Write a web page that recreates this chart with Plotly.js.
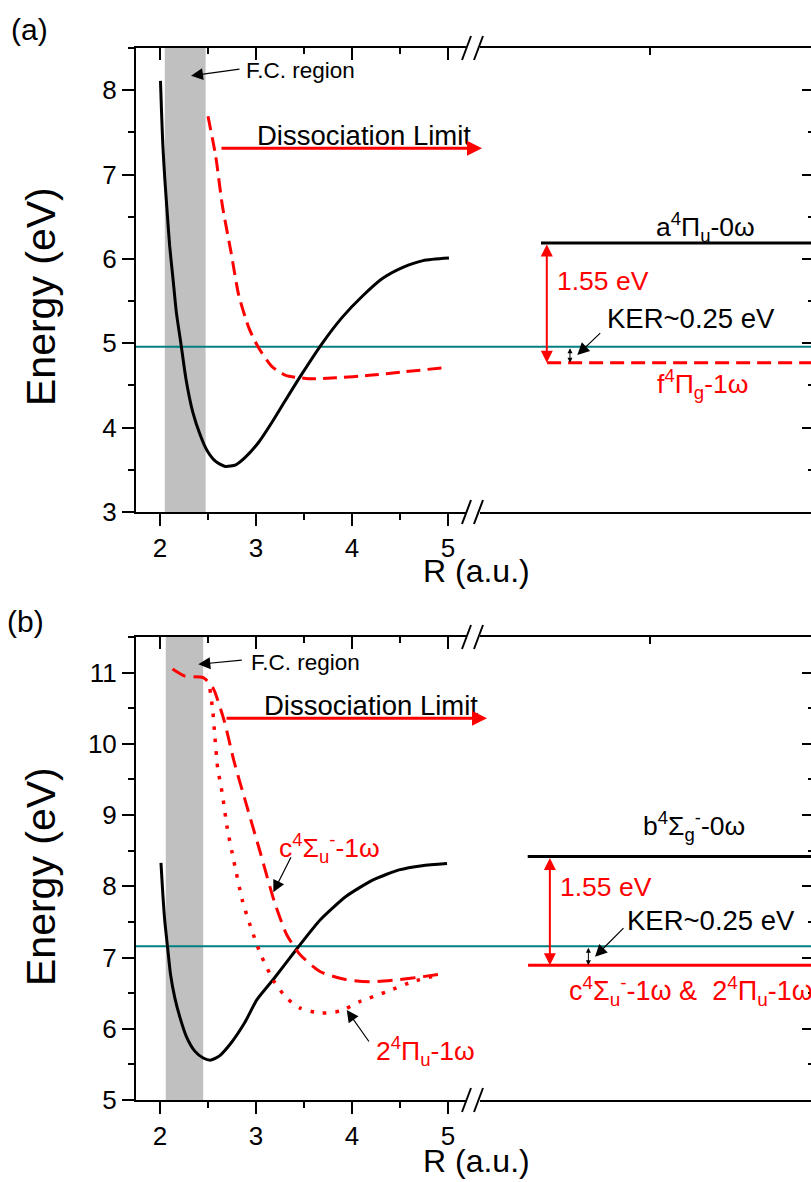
<!DOCTYPE html>
<html><head><meta charset="utf-8">
<script src="https://cdn.plot.ly/plotly-3.0.1.min.js"></script>
<style>html,body{margin:0;padding:0;overflow:hidden;background:#fff}#chart{width:817px;height:1182px}</style>
</head><body><div id="chart"></div>
<script>
// ---------------- DATA ----------------
// Panel (a): potential curves (R in a.u., E in eV)
const rA_black = [2.005, 2.016, 2.03, 2.05, 2.075, 2.10, 2.135, 2.17, 2.22, 2.27, 2.34, 2.42, 2.49, 2.58, 2.68, 2.79, 2.89, 3.03, 3.17, 3.31, 3.48, 3.69, 3.90, 4.11, 4.32, 4.53, 4.74, 5.01];
const eA_black = [8.11, 7.74, 7.34, 6.95, 6.55, 6.16, 5.77, 5.37, 4.98, 4.58, 4.19, 3.91, 3.73, 3.60, 3.54, 3.56, 3.65, 3.83, 4.07, 4.33, 4.64, 5.00, 5.31, 5.56, 5.77, 5.90, 5.98, 6.01];
const rA_red = [2.50, 2.58, 2.65, 2.74, 2.82, 2.93, 3.03, 3.17, 3.31, 3.55, 3.83, 4.18, 4.53, 4.95];
const eA_red = [7.69, 7.22, 6.63, 6.08, 5.57, 5.17, 4.94, 4.72, 4.62, 4.58, 4.59, 4.62, 4.66, 4.71];
const fcA = [2.05, 2.475];
const tealA = 4.96;
const upperA = 6.19;   // a4Πu-0ω
const lowerA = 4.77;   // f4Πg-1ω

// Panel (b)
const rB_black = [2.01, 2.03, 2.05, 2.08, 2.11, 2.155, 2.21, 2.275, 2.36, 2.45, 2.53, 2.62, 2.74, 2.88, 3.01, 3.19, 3.43, 3.67, 3.94, 4.22, 4.49, 4.73, 4.99];
const eB_black = [8.33, 7.88, 7.51, 7.13, 6.76, 6.43, 6.15, 5.89, 5.69, 5.59, 5.56, 5.62, 5.80, 6.08, 6.41, 6.71, 7.13, 7.53, 7.86, 8.09, 8.23, 8.29, 8.32];
const rB_c = [2.13, 2.26, 2.45, 2.55, 2.67, 2.77, 2.91, 3.05, 3.19, 3.32, 3.46, 3.67, 3.94, 4.22, 4.49, 4.73, 4.94];
const eB_c = [11.05, 10.95, 10.93, 10.79, 10.32, 9.76, 9.10, 8.45, 7.79, 7.32, 7.04, 6.80, 6.69, 6.66, 6.69, 6.73, 6.77];
const rB_p = [2.52, 2.55, 2.57, 2.60, 2.65, 2.70, 2.77, 2.86, 2.95, 3.05, 3.19, 3.32, 3.46, 3.67, 3.88, 4.08, 4.36, 4.63, 4.91];
const eB_p = [10.77, 10.46, 10.13, 9.67, 9.29, 8.82, 8.35, 7.79, 7.41, 7.04, 6.66, 6.43, 6.29, 6.22, 6.25, 6.38, 6.52, 6.66, 6.76];
const fcB = [2.06, 2.45];
const tealB = 7.16;
const upperB = 8.42;   // b4Σg- -0ω
const lowerB = 6.89;   // c4Σu- -1ω & 2 4Πu-1ω

// Axis ranges / ticks
const rRange = [1.75, 5.198];
const eRangeA = [3, 8.5];
const eRangeB = [5, 11.5];
const rightRange = [0, 9.8];
const rightTopTick = [5];

// ---------------- LAYOUT HELPERS ----------------
const PL = 136, PR = 814, PT = 48, PB = 1100, PW = PR - PL, PH = PB - PT;
const fx = px => (px - PL) / PW;
const fy = py => (PB - py) / PH;
const xLeftDom = [0, fx(467)], xRightDom = [fx(480), 1];
const yDomA = [fy(512), 1], yDomB = [0, fy(637)];
const FONT = 'Arial, "Liberation Sans", Helvetica, sans-serif';

const base = {showgrid:false, zeroline:false, showline:true, linecolor:'#000', linewidth:2,
  tickcolor:'#000', tickwidth:2, ticklen:12, tickfont:{size:26, color:'#000', family:FONT}};
function xBottom(dom, anchor){ return Object.assign({}, base, {domain:dom, anchor:anchor, range:rRange,
  tickmode:'linear', tick0:0, dtick:1, ticks:'outside',
  minor:{ticks:'outside', ticklen:6, tickwidth:2, tickcolor:'#000', dtick:0.5, tick0:0}}); }
function xTop(over, anchor){ return Object.assign({}, base, {overlaying:over, side:'top', anchor:anchor, range:rRange,
  tickmode:'linear', tick0:0, dtick:1, ticks:'inside', showticklabels:false,
  minor:{ticks:'inside', ticklen:6, tickwidth:2, tickcolor:'#000', dtick:0.5, tick0:0}}); }
function xRight(dom, anchor){ return Object.assign({}, base, {domain:dom, anchor:anchor, range:rightRange,
  ticks:'', showticklabels:false}); }
function xRightTop(over, anchor){ return Object.assign({}, base, {overlaying:over, side:'top', anchor:anchor, range:rightRange,
  tickmode:'array', tickvals:rightTopTick, ticks:'inside', ticklen:7, showticklabels:false}); }
function yLeft(dom, anchor, rng){ return Object.assign({}, base, {domain:dom, anchor:anchor, range:rng,
  tickmode:'linear', tick0:0, dtick:1, ticks:'outside',
  minor:{ticks:'outside', ticklen:6, tickwidth:2, tickcolor:'#000', dtick:0.5, tick0:0}}); }
function yRight(over, rng){ return Object.assign({}, base, {overlaying:over, side:'right', anchor:'free', position:1, range:rng,
  showline:false, tickmode:'linear', tick0:0, dtick:1, ticks:'inside', showticklabels:false,
  minor:{ticks:'inside', ticklen:6, tickwidth:2, tickcolor:'#000', dtick:0.5, tick0:0}}); }

// ---------------- TRACES ----------------
function curve(x, y, xa, ya, color, dash, width){
  return {type:'scatter', mode:'lines', x:x, y:y, xaxis:xa, yaxis:ya, hoverinfo:'skip', showlegend:false,
    line:{color:color, width:width || 3, dash:dash, shape:'spline', smoothing:0.6}};
}
function level(e, x0, xa, ya, color, dash){
  return {type:'scatter', mode:'lines', x:[x0, rightRange[1]], y:[e, e], xaxis:xa, yaxis:ya, hoverinfo:'skip', showlegend:false,
    line:{color:color, width:3, dash:dash}};
}
function dummy(xa, ya){ return {type:'scatter', mode:'lines', x:[], y:[], xaxis:xa, yaxis:ya, hoverinfo:'skip', showlegend:false}; }

const DASH_A = '14px,7px', DASH_B = '15px,8px', DOT = '3.5px,9px';
const traces = [
  curve(rA_black, eA_black, 'x', 'y', '#000', 'solid'),
  curve(rA_red, eA_red, 'x', 'y', '#FF0000', DASH_A),
  level(upperA, 1.79, 'x2', 'y', '#000', 'solid'),
  level(lowerA, 1.97, 'x2', 'y', '#FF0000', DASH_A),
  dummy('x3', 'y'), dummy('x4', 'y'), dummy('x2', 'y2'),
  curve(rB_black, eB_black, 'x5', 'y3', '#000', 'solid'),
  curve(rB_c, eB_c, 'x5', 'y3', '#FF0000', DASH_B),
  curve(rB_p, eB_p, 'x5', 'y3', '#FF0000', DOT, 3.5),
  level(upperB, 1.40, 'x6', 'y3', '#000', 'solid'),
  level(lowerB, 1.41, 'x6', 'y3', '#FF0000', 'solid'),
  dummy('x7', 'y3'), dummy('x8', 'y3'), dummy('x6', 'y4')
];

// ---------------- SHAPES ----------------
const shapes = [];
function band(fc, xa, ya){ shapes.push({type:'rect', xref:xa, yref:ya + ' domain', x0:fc[0], x1:fc[1], y0:0, y1:1,
  fillcolor:'#C0C0C0', line:{width:0}, layer:'below'}); }
function hline(e, ya){ shapes.push({type:'line', xref:'paper', yref:ya, x0:0, x1:1, y0:e, y1:e,
  line:{color:'#008080', width:2}, layer:'below'}); }
function breakMark(py){
  [[462, 471], [474, 483]].forEach(function(s){
    shapes.push({type:'line', xref:'paper', yref:'paper', x0:fx(s[0]), x1:fx(s[1]), y0:fy(py + 12), y1:fy(py - 12),
      line:{color:'#000', width:2}});
  });
}
band(fcA, 'x', 'y'); hline(tealA, 'y');
band(fcB, 'x5', 'y3'); hline(tealB, 'y3');
breakMark(48); breakMark(512); breakMark(637); breakMark(1100);

// ---------------- ANNOTATIONS ----------------
const ann = [];
function txt(t, px, pyBase, size, color, xanchor){
  ann.push({xref:'paper', yref:'paper', x:fx(px), y:fy(pyBase - 0.35 * size), text:t, showarrow:false,
    xanchor:xanchor || 'left', yanchor:'middle',
    font:{size:size, color:color || '#000', family:FONT}});
}
function ctr(t, px, py, size, angle){
  ann.push({xref:'paper', yref:'paper', x:fx(px), y:fy(py), text:t, showarrow:false,
    xanchor:'center', yanchor:'middle', textangle:angle || 0, font:{size:size, color:'#000', family:FONT}});
}
function arrowPx(tip, tail, color, width, size){
  ann.push({xref:'paper', yref:'paper', x:fx(tip[0]), y:fy(tip[1]), ax:tail[0] - tip[0], ay:tail[1] - tip[1],
    text:'', showarrow:true, arrowhead:2, arrowsize:size, arrowwidth:width, arrowcolor:color, standoff:0, startstandoff:0});
}
function dblArrow(xa, ya, xv, e1, e2, color, width, size){
  ann.push({xref:xa, yref:ya, x:xv, y:e2, axref:xa, ayref:ya, ax:xv, ay:e1, text:'', showarrow:true,
    arrowhead:2, startarrowhead:2, arrowside:'end+start', arrowsize:size, startarrowsize:size,
    arrowwidth:width, arrowcolor:color, standoff:0, startstandoff:0});
}

// panel labels & axis titles
ctr('(a)', 30, 29, 30);
ctr('(b)', 26, 621, 30);
ctr('Energy (eV)', 41, 297, 41, -90);
ctr('Energy (eV)', 41, 877, 41, -90);
txt('R (a.u.)', 476, 582, 32, '#000', 'center');
txt('R (a.u.)', 476, 1172, 32, '#000', 'center');

// panel (a)
txt('F.C. region', 244, 78, 22.5);
arrowPx([191, 75.7], [241, 69], '#000', 1.2, 2);
txt('Dissociation Limit', 255, 145, 27.5);
arrowPx([482, 148.3], [220, 148.3], '#FF0000', 3, 1);
txt('a<sup>4</sup>Π<sub>u</sub>-0ω', 705, 236.7, 26.5, '#000', 'center');
txt('1.55 eV', 555, 290, 26.5, '#FF0000');
txt('KER~0.25 eV', 605, 328.3, 27.5);
arrowPx([577.3, 355], [601.7, 331.7], '#000', 1.2, 2);
txt('f<sup>4</sup>Π<sub>g</sub>-1ω', 702.5, 393.3, 26.5, '#FF0000', 'center');
dblArrow('x2', 'y', 1.96, upperA, lowerA, '#FF0000', 2, 1.2);
dblArrow('x2', 'y', 2.64, tealA, lowerA, '#000', 1, 1);

// panel (b)
txt('F.C. region', 249, 670, 22.5);
arrowPx([198.3, 664.3], [243.3, 660], '#000', 1.2, 2);
txt('Dissociation Limit', 262, 715, 27.5);
arrowPx([487, 718.3], [225, 718.3], '#FF0000', 3, 1);
txt('c<sup>4</sup>Σ<sub>u</sub><sup>-</sup>-1ω', 277, 857, 26.5, '#FF0000');
arrowPx([273.3, 892.3], [291.7, 855.7], '#000', 1.2, 2);
txt('2<sup>4</sup>Π<sub>u</sub>-1ω', 374, 1060, 26.5, '#FF0000');
arrowPx([346.7, 1010], [370, 1043], '#000', 1.2, 2);
txt('b<sup>4</sup>Σ<sub>g</sub><sup>-</sup>-0ω', 694, 835, 26.5, '#000', 'center');
txt('1.55 eV', 558, 896.7, 26.5, '#FF0000');
txt('KER~0.25 eV', 625, 930, 27.5);
arrowPx([595, 956.7], [625, 926.7], '#000', 1.2, 2);
txt('c<sup>4</sup>Σ<sub>u</sub><sup>-</sup>-1ω &amp;  2<sup>4</sup>Π<sub>u</sub>-1ω', 567, 1000, 27, '#FF0000');
dblArrow('x6', 'y3', 2.05, upperB, lowerB, '#FF0000', 2, 1.2);
dblArrow('x6', 'y3', 3.18, tealB, lowerB, '#000', 1, 1);

const layout = {
  width:817, height:1182, paper_bgcolor:'#fff', plot_bgcolor:'rgba(0,0,0,0)',
  margin:{l:PL, r:817 - PR, t:PT, b:1182 - PB, pad:0},
  font:{family:FONT, color:'#000'}, showlegend:false,
  xaxis: xBottom(xLeftDom, 'y'),
  xaxis2: xRight(xRightDom, 'y'),
  xaxis3: xTop('x', 'y'),
  xaxis4: xRightTop('x2', 'y'),
  yaxis: yLeft(yDomA, 'x', eRangeA),
  yaxis2: yRight('y', eRangeA),
  xaxis5: xBottom(xLeftDom, 'y3'),
  xaxis6: xRight(xRightDom, 'y3'),
  xaxis7: xTop('x5', 'y3'),
  xaxis8: xRightTop('x6', 'y3'),
  yaxis3: yLeft(yDomB, 'x5', eRangeB),
  yaxis4: yRight('y3', eRangeB),
  shapes: shapes, annotations: ann
};
Plotly.newPlot('chart', traces, layout, {displayModeBar:false, staticPlot:true});
</script></body></html>
